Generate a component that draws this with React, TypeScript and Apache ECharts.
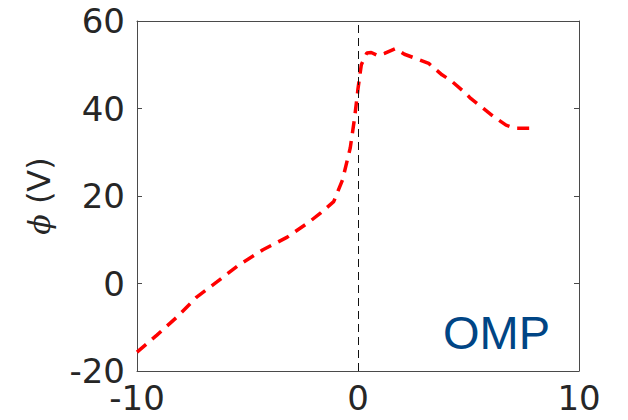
import React, { useEffect, useRef } from "react";
import * as echarts from "echarts";

// Distance from the separatrix (cm) and plasma potential (V)
const positions = [-10, -9.1, -8.2, -7.3, -6.4, -5.4, -4.3, -3.2, -2.2, -1.7, -1.1, -0.7, -0.35, -0.15, 0, 0.15, 0.4, 0.6, 0.9, 1.2, 1.7, 2.1, 2.8, 3.2, 3.8, 4.2, 4.8, 5.1, 5.7, 6.1, 6.7, 7.1, 7.8];
const potential = [-15.7, -11.8, -7.7, -3.1, 0.3, 4.2, 7.7, 10.6, 14.1, 16.1, 18.7, 23.7, 31, 38, 44.5, 50, 52.7, 52.8, 52.1, 52.6, 53.7, 52.4, 51.1, 50.3, 47.7, 46.4, 43.8, 42.3, 39.9, 38.3, 36.2, 35.5, 35.5];

const xTicks = [-10, 0, 10];
const yTicks = [-20, 0, 20, 40, 60];
const regionLabel = "OMP";

const AXIS_COLOR = "#4a4a4a";
const TEXT_COLOR = "#262626";
const FONT = "DejaVu Sans";

export default function App() {
  const ref = useRef<HTMLDivElement>(null);

  useEffect(() => {
    if (!ref.current) return;
    const chart = echarts.init(ref.current, null, { renderer: "svg" });
    const yInterval = yTicks[1] - yTicks[0];
    const xInterval = xTicks[1] - xTicks[0];
    const yBase = {
      type: "value" as const,
      min: yTicks[0],
      max: yTicks[yTicks.length - 1],
      interval: yInterval,
      splitLine: { show: false },
      axisLine: { show: true, onZero: false, lineStyle: { color: AXIS_COLOR, width: 1 } },
      axisTick: { show: true, inside: true, length: 5, lineStyle: { color: AXIS_COLOR } },
    };
    chart.setOption({
      animation: false,
      backgroundColor: "#ffffff",
      grid: { left: 137, right: 49, top: 21, bottom: 49, containLabel: false },
      xAxis: [
        {
          type: "value",
          min: xTicks[0],
          max: xTicks[xTicks.length - 1],
          interval: xInterval,
          splitLine: { show: false },
          axisLine: { show: true, onZero: false, lineStyle: { color: AXIS_COLOR, width: 1 } },
          axisTick: { show: false },
          axisLabel: {
            show: true,
            color: TEXT_COLOR,
            fontFamily: FONT,
            fontSize: 34,
            margin: 10,
            showMinLabel: true,
            showMaxLabel: true,
          },
        },
        {
          type: "value",
          position: "top",
          min: xTicks[0],
          max: xTicks[xTicks.length - 1],
          interval: xInterval,
          splitLine: { show: false },
          axisLine: { show: true, onZero: false, lineStyle: { color: AXIS_COLOR, width: 1 } },
          axisTick: { show: false },
          axisLabel: { show: false },
        },
      ],
      yAxis: [
        {
          ...yBase,
          position: "left",
          name: "{p|ϕ} (V)",
          nameLocation: "middle",
          nameRotate: 90,
          nameGap: 82,
          nameTextStyle: {
            color: TEXT_COLOR,
            fontFamily: FONT,
            fontSize: 32,
            rich: {
              p: { fontFamily: "DejaVu Serif", fontStyle: "italic", fontSize: 30, color: TEXT_COLOR },
            },
          },
          axisLabel: {
            show: true,
            color: TEXT_COLOR,
            fontFamily: FONT,
            fontSize: 34,
            margin: 12,
            showMinLabel: true,
            showMaxLabel: true,
          },
        },
        {
          ...yBase,
          position: "right",
          axisLabel: { show: false },
        },
      ],
      series: [
        {
          type: "line",
          xAxisIndex: 0,
          yAxisIndex: 0,
          data: positions.map((x, i) => [x, potential[i]]),
          showSymbol: false,
          symbol: "none",
          smooth: false,
          lineStyle: { color: "#ff0000", width: 3.5, type: [12, 8], cap: "butt" },
          markLine: {
            silent: true,
            symbol: "none",
            label: { show: false },
            lineStyle: { color: "#111111", width: 1, type: [8, 5] },
            data: [{ xAxis: 0 }],
          },
          z: 3,
        },
      ],
      graphic: [
        {
          type: "text",
          left: 443,
          top: 309,
          style: {
            text: regionLabel,
            fill: "#004585",
            fontFamily: "Liberation Sans",
            fontSize: 47,
          },
        },
      ],
    });
    return () => chart.dispose();
  }, []);

  return (
    <div
      ref={ref}
      style={{ position: "fixed", left: 0, top: 0, width: 628, height: 420 }}
    />
  );
}
